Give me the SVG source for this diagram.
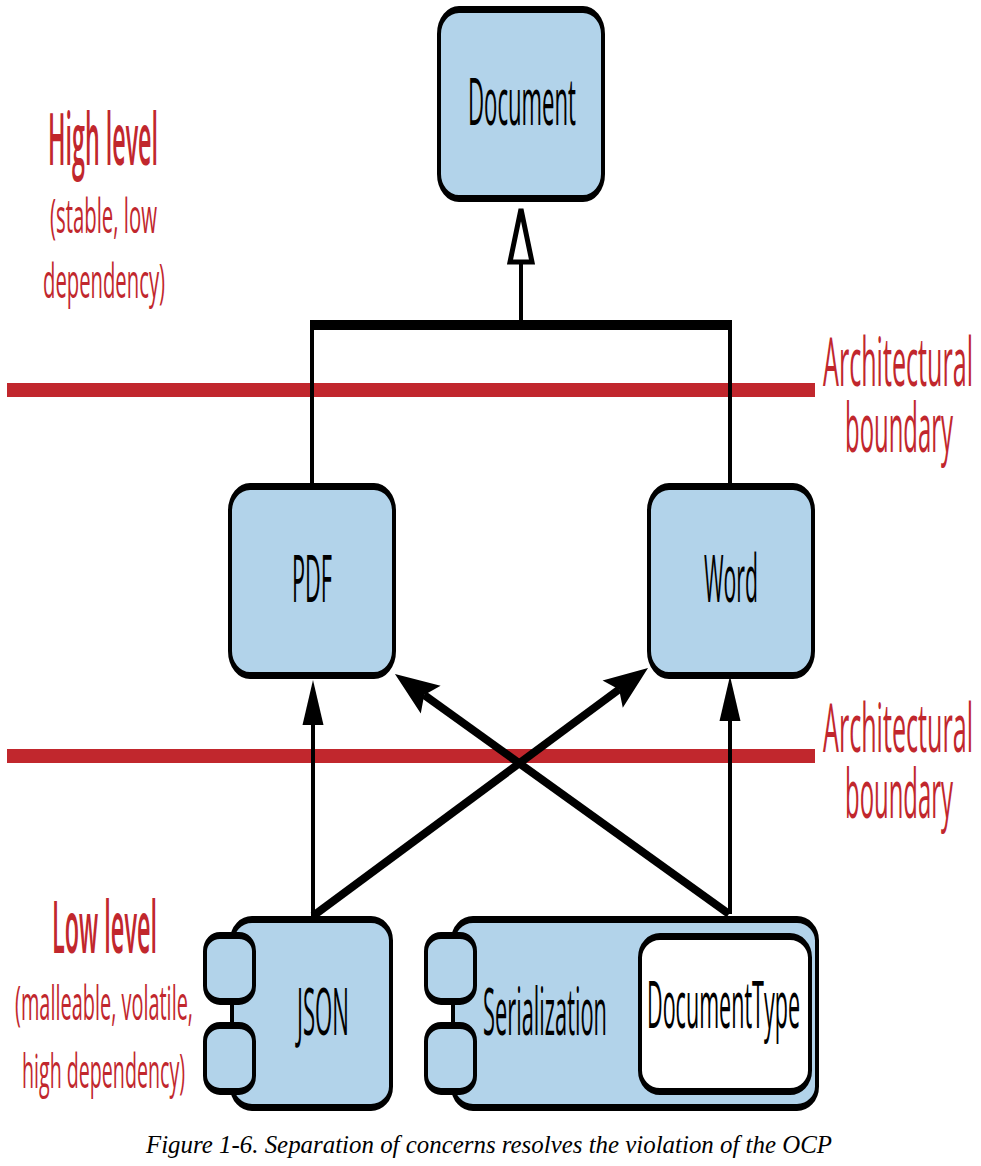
<svg xmlns="http://www.w3.org/2000/svg" width="981" height="1166" viewBox="0 0 981 1166">
<style>
.box{fill:#b2d3ea;stroke:#000;stroke-width:4}
.white{fill:#fff;stroke:#000;stroke-width:4}
.lbl{font-family:"Open Sans","DejaVu Sans",sans-serif;font-size:66px;fill:#000;text-anchor:middle}
.red{font-family:"Open Sans","DejaVu Sans",sans-serif;fill:#c1272d;text-anchor:middle}
.head{font-size:72px;font-weight:600}
.sub{font-size:47px}
.arch{font-size:67px}
.band{stroke:#c1272d;stroke-width:14}
.thin{stroke:#000;stroke-width:4;fill:none}
.thick{stroke:#000;stroke-width:8;fill:none}
.cap{font-family:"Liberation Serif","Times New Roman",serif;font-style:italic;font-size:26px;fill:#000;text-anchor:middle}
</style>
<defs>
<marker id="tri" viewBox="-1 -12 48 24" refX="0" refY="0" markerWidth="48" markerHeight="24" markerUnits="userSpaceOnUse" orient="auto">
<path d="M45,0 L0,-10.5 L0,10.5 Z" fill="#000"/>
</marker>
<marker id="barb" viewBox="-10 -19 50 38" refX="0" refY="0" markerWidth="50" markerHeight="38" markerUnits="userSpaceOnUse" orient="auto">
<path d="M36,0 L-8,-17 L0,0 L-8,17 Z" fill="#000"/>
</marker>
</defs>
<rect width="981" height="1166" fill="#fff"/>

<g id="boundaries">
<line class="band" x1="7" y1="390" x2="815" y2="390"/>
<line class="band" x1="7" y1="756" x2="815" y2="756"/>
<text class="red arch" transform="translate(898,386) scale(0.375,1)" textLength="400" lengthAdjust="spacingAndGlyphs">Architectural</text>
<text class="red arch" transform="translate(899,452) scale(0.36,1)" textLength="300" lengthAdjust="spacingAndGlyphs">boundary</text>
<text class="red arch" transform="translate(898,752) scale(0.375,1)" textLength="400" lengthAdjust="spacingAndGlyphs">Architectural</text>
<text class="red arch" transform="translate(899,818) scale(0.36,1)" textLength="300" lengthAdjust="spacingAndGlyphs">boundary</text>
</g>

<g id="levels">
<text class="red head" transform="translate(103,165) scale(0.325,1)" textLength="338.5" lengthAdjust="spacingAndGlyphs">High level</text>
<text class="red sub" transform="translate(103.5,233) scale(0.43,1)" textLength="248.8" lengthAdjust="spacingAndGlyphs">(stable, low</text>
<text class="red sub" transform="translate(104,298) scale(0.43,1)" textLength="283.7" lengthAdjust="spacingAndGlyphs">dependency)</text>
<text class="red head" transform="translate(104.5,953) scale(0.33,1)" textLength="318.2" lengthAdjust="spacingAndGlyphs">Low level</text>
<text class="red sub" transform="translate(104,1020) scale(0.42,1)" textLength="423.8" lengthAdjust="spacingAndGlyphs">(malleable, volatile,</text>
<text class="red sub" transform="translate(103.5,1088) scale(0.42,1)" textLength="388.1" lengthAdjust="spacingAndGlyphs">high dependency)</text>
</g>

<g id="connectors">
<line class="thin" x1="521" y1="263" x2="521" y2="325"/>
<polygon points="521,209 510,262 532,262" fill="#fff" stroke="#000" stroke-width="5"/>
<line x1="310" y1="325" x2="732" y2="325" stroke="#000" stroke-width="10"/>
<line class="thin" x1="312" y1="325" x2="312" y2="485"/>
<line class="thin" x1="730" y1="325" x2="730" y2="485"/>
<line class="thin" x1="313" y1="916" x2="313" y2="725" marker-end="url(#tri)"/>
<line class="thin" x1="730" y1="914" x2="730" y2="721" marker-end="url(#tri)"/>
<line class="thick" x1="313" y1="916" x2="619.1" y2="689.4" marker-end="url(#barb)"/>
<line class="thick" x1="729" y1="914" x2="424.2" y2="695" marker-end="url(#barb)"/>
</g>

<g id="node-document">
<g transform="translate(439,9.5) scale(1,1.75)"><rect class="box" x="0" y="0" width="164" height="108" rx="20" ry="14"/></g>
<text class="lbl" transform="translate(522,125) scale(0.33,1)" textLength="327.3" lengthAdjust="spacingAndGlyphs">Document</text>
</g>

<g id="node-pdf">
<g transform="translate(230,486.5) scale(1,1.75)"><rect class="box" x="0" y="0" width="164" height="108" rx="20" ry="14"/></g>
<text class="lbl" transform="translate(312,602) scale(0.33,1)" textLength="121.2" lengthAdjust="spacingAndGlyphs">PDF</text>
</g>

<g id="node-word">
<g transform="translate(649,486.5) scale(1,1.75)"><rect class="box" x="0" y="0" width="164" height="108" rx="20" ry="14"/></g>
<text class="lbl" transform="translate(731,602) scale(0.33,1)" textLength="163.6" lengthAdjust="spacingAndGlyphs">Word</text>
</g>

<g id="node-json">
<g transform="translate(232,919.5) scale(1,1.75)"><rect class="box" x="0" y="0" width="159" height="107.4" rx="20" ry="12"/></g>
<g transform="translate(205,935.5) scale(1,1.75)"><rect class="box" x="0" y="0" width="49" height="37.7" rx="15" ry="9"/></g>
<g transform="translate(205,1025.5) scale(1,1.75)"><rect class="box" x="0" y="0" width="49" height="37.7" rx="15" ry="9"/></g>
<text class="lbl" transform="translate(323,1035) scale(0.33,1)" textLength="157.6" lengthAdjust="spacingAndGlyphs">JSON</text>
</g>

<g id="node-serialization">
<g transform="translate(453,919.5) scale(1,1.75)"><rect class="box" x="0" y="0" width="364" height="107.4" rx="20" ry="12"/></g>
<g transform="translate(426,935.5) scale(1,1.75)"><rect class="box" x="0" y="0" width="49" height="37.7" rx="15" ry="9"/></g>
<g transform="translate(426,1025.5) scale(1,1.75)"><rect class="box" x="0" y="0" width="49" height="37.7" rx="15" ry="9"/></g>
<text class="lbl" transform="translate(545,1035) scale(0.33,1)" textLength="375.8" lengthAdjust="spacingAndGlyphs">Serialization</text>
<g id="node-documenttype">
<g transform="translate(640,936.5) scale(1,1.75)"><rect class="white" x="0" y="0" width="170" height="88.6" rx="20" ry="12"/></g>
<text class="lbl" transform="translate(723.5,1028) scale(0.33,1)" textLength="463.6" lengthAdjust="spacingAndGlyphs">DocumentType</text>
</g>
</g>

<text class="cap" x="489" y="1153" textLength="686" lengthAdjust="spacingAndGlyphs">Figure 1-6. Separation of concerns resolves the violation of the OCP</text>
</svg>
